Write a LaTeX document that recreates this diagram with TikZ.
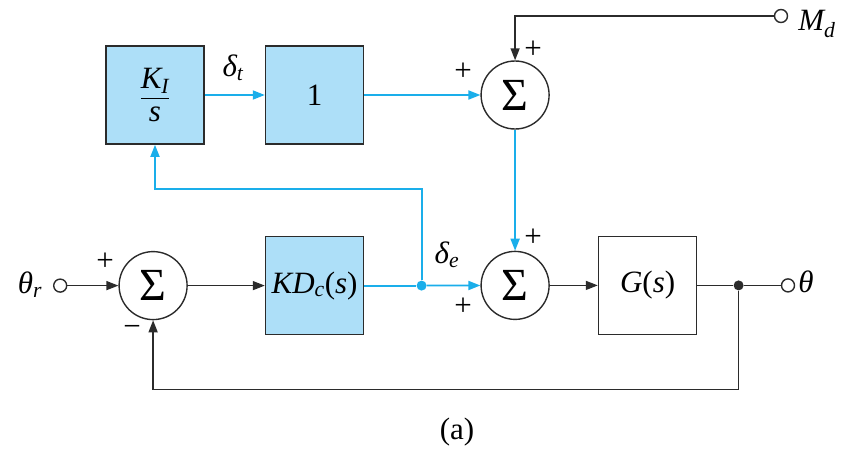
\documentclass[tikz,border=0pt]{standalone}
\usepackage{amsmath}
\usepackage{fontspec}
\setmainfont{Liberation Serif}
\usetikzlibrary{arrows.meta,positioning}
\definecolor{bdCyan}{HTML}{1AAEEA}
\definecolor{bdFill}{HTML}{ADDFF8}
\definecolor{bdLine}{HTML}{2B2B2B}
\newcommand{\itv}[1]{\text{\itshape #1}}
\begin{document}
\begin{tikzpicture}[x=1pt,y=-1pt,>={Triangle[length=12pt,width=9pt]},
        font=\fontsize{31}{35}\selectfont,
        blk/.style={draw=bdLine,line width=1.6pt,minimum size=98pt,inner sep=0pt},
        cblk/.style={blk,fill=bdFill},
        sumnode/.style={draw=bdLine,line width=1.4pt,circle,minimum size=68pt,inner sep=0pt,
                   font=\fontsize{46}{48}\selectfont},
        term/.style={draw=bdLine,line width=1.4pt,circle,minimum size=13pt,inner sep=0pt,fill=white},
        jdot/.style={circle,minimum size=10pt,inner sep=0pt},
        sig/.style={line width=1.5pt,bdLine},
        csig/.style={line width=1.8pt,bdCyan}]
        \useasboundingbox (0,0) rectangle (846,450);
        \node[cblk] (ki) at (155,95) {$\dfrac{\itv{K}_{\itv{I}}}{\itv{s}}$};
        \node[cblk,right=60pt of ki] (one) {1};
        \node[sumnode,right=116pt of one] (st) {Σ};
        \node[cblk,below=91pt of one] (kd) {$\itv{KD}_{\itv{c}}$(\textit{s})};
        \node[sumnode,left=77pt of kd] (sa) {Σ};
        \node[sumnode,below=121pt of st] (sb) {Σ};
        \node[blk,right=48pt of sb] (g) {\textit{G}(\textit{s})};
        \node[term,left=51pt of sa] (thr) {};
        \node[jdot,fill=bdCyan,right=52pt of kd] (je) {};
        \node[jdot,fill=bdLine,right=36pt of g] (jg) {};
        \node[term,right=37pt of jg] (th) {};
        \node[term] (md) at (781,16) {};
        \node (lthr) at (30,285) {$\itv{θ}_{\itv{r}}$};
        \node (lth) at (806,282) {\textit{θ}};
        \node (lmd) at (817,24) {$\itv{M}_{\itv{d}}$};
        \node (ldt) at (233,68) {$\itv{δ}_{\itv{t}}$};
        \node (lde) at (447,255) {$\itv{δ}_{\itv{e}}$};
        \node (psa) at (105,262) {+};
        \node (msa) at (132,331) {−};
        \node (pstl) at (463,72) {+};
        \node (pstt) at (533,50) {+};
        \node (psbt) at (533,238) {+};
        \node (psbl) at (463,307) {+};
        \node (cap) at (457,432) {(a)};
        \draw[csig,->] (ki) -- (one);
        \draw[csig,->] (one) -- (st);
        \draw[sig,->] (md) -| (st);
        \draw[csig,->] (st) -- (sb);
        \draw[sig,->] (thr) -- (sa);
        \draw[sig,->] (sa) -- (kd);
        \draw[csig] (kd) -- (je);
        \draw[csig,->] (je) -- (sb);
        \draw[csig,->] (je) |- ([yshift=-44pt]ki.south) -- (ki);
        \draw[sig,->] (sb) -- (g);
        \draw[sig] (g) -- (jg) -- (th);
        \draw[sig,->] (jg) |- ([yshift=-69pt]sa.south) -- (sa);
      \end{tikzpicture}
\end{document}
